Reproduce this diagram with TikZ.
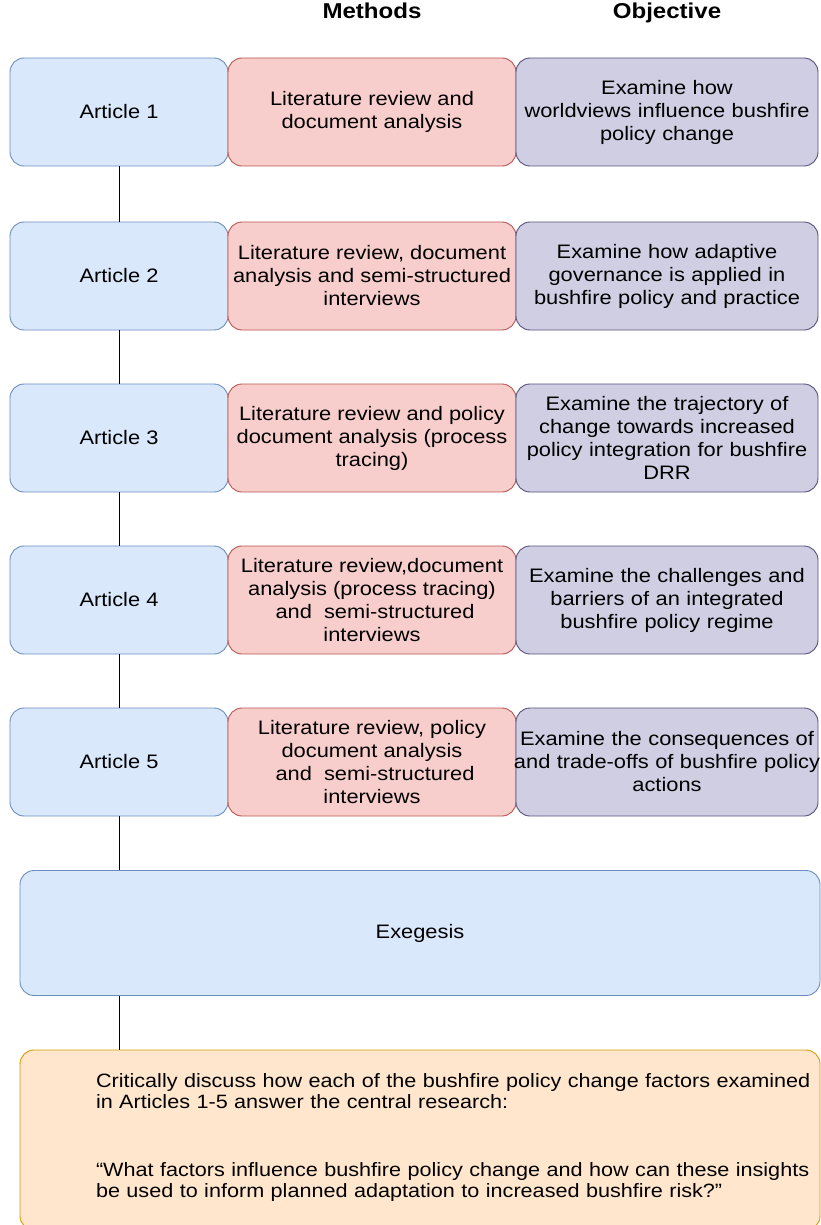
\documentclass[tikz,border=0pt]{standalone}
\usepackage{fontspec}
\setmainfont{Liberation Sans}[FakeStretch=1.12]
\usetikzlibrary{positioning}

\definecolor{artfill}{HTML}{DAE8FC}
\definecolor{artline}{HTML}{6C8EBF}
\definecolor{methfill}{HTML}{F8CECC}
\definecolor{methline}{HTML}{B85450}
\definecolor{objfill}{HTML}{D0CEE2}
\definecolor{objline}{HTML}{56517E}
\definecolor{concfill}{HTML}{FFE6CC}
\definecolor{concline}{HTML}{D79B00}

\tikzset{
  box/.style={rounded corners=14pt,line width=0.9pt,align=center,inner sep=0pt,
    minimum height=108pt,font=\fontsize{19.5}{23}\selectfont},
  artbox/.style={box,draw=artline,fill=artfill,minimum width=218pt},
  methbox/.style={box,draw=methline,fill=methfill,minimum width=288pt},
  objbox/.style={box,draw=objline,fill=objfill,text width=302pt},
  head/.style={font=\fontsize{21.5}{25}\selectfont\bfseries,text height=15pt,text depth=4pt},
  link/.style={line width=0.9pt}
}

\begin{document}
\begin{tikzpicture}[x=1pt,y=-1pt]
  \useasboundingbox (0,0) rectangle (821,1225);

  \node[head] (hmeth) at (372,13) {Methods};
  \node[head] (hobj)  at (667,13) {Objective};

  \node[artbox]  (art1)  at (119,112) {Article 1};
  \node[methbox] (meth1) at (372,112) {Literature review and\\document analysis};
  \node[objbox]  (obj1)  at (667,112) {Examine how\\worldviews influence bushfire\\policy change};

  \node[artbox]  (art2)  at (119,276) {Article 2};
  \node[methbox] (meth2) at (372,276) {Literature review, document\\analysis and semi-structured\\interviews};
  \node[objbox]  (obj2)  at (667,276) {Examine how adaptive\\governance is applied in\\bushfire policy and practice};

  \node[artbox]  (art3)  at (119,438) {Article 3};
  \node[methbox] (meth3) at (372,438) {Literature review and policy\\document analysis (process\\tracing)};
  \node[objbox]  (obj3)  at (667,438) {Examine the trajectory of\\change towards increased\\policy integration for bushfire\\DRR};

  \node[artbox]  (art4)  at (119,600) {Article 4};
  \node[methbox] (meth4) at (372,600) {Literature review,document\\analysis (process tracing)\\\ and~~semi-structured\\interviews};
  \node[objbox]  (obj4)  at (667,600) {Examine the challenges and\\barriers of an integrated\\bushfire policy regime};

  \node[artbox]  (art5)  at (119,762) {Article 5};
  \node[methbox] (meth5) at (372,762) {Literature review, policy\\document analysis\\\ and~~semi-structured\\interviews};
  \node[objbox]  (obj5)  at (667,762) {\makebox[\linewidth]{Examine the consequences of}\\\makebox[\linewidth]{and trade-offs of bushfire policy}\\actions};

  \node[box,draw=artline,fill=artfill,minimum width=800pt,minimum height=125pt]
    (exeg) at (420,933) {Exegesis};

  \node[box,draw=concline,fill=concfill,minimum width=800pt,minimum height=180pt,
    align=left,text width=730pt,font=\fontsize{19.3}{21}\selectfont]
    (conc) at (420,1140) {\hspace*{41pt}\parbox[t]{720pt}{Critically discuss how each of the bushfire policy change factors examined\\in Articles 1-5 answer the central research:\\[47pt]
``What factors influence bushfire policy change and how can these insights\\be used to inform planned adaptation to increased bushfire risk?''\par\vspace{6pt}}};

  \draw[link] (art1) -- (art2);
  \draw[link] (art2) -- (art3);
  \draw[link] (art3) -- (art4);
  \draw[link] (art4) -- (art5);
  \draw[link] (art5) -- (art5.south |- exeg.north);
  \draw[link] (art5.south |- exeg.south) -- (art5.south |- conc.north);
\end{tikzpicture}
\end{document}
